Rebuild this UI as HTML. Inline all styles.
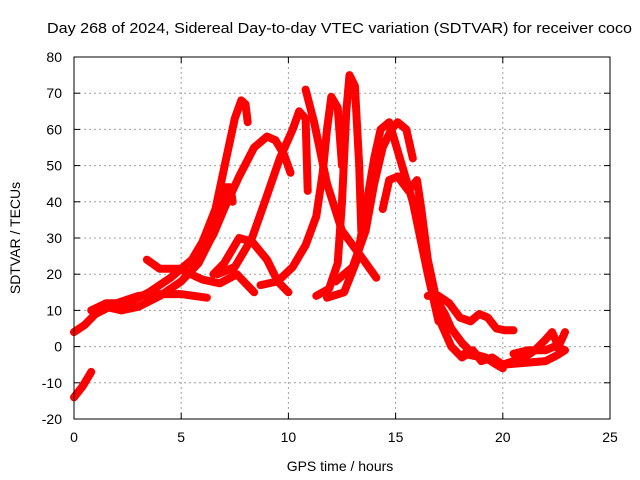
<!DOCTYPE html>
<html><head><meta charset="utf-8">
<style>
body{margin:0;background:#fff;}
svg{display:block;font-family:"Liberation Sans",sans-serif;}
</style></head>
<body>
<svg id="chart" width="640" height="480">
<rect x="0" y="0" width="640" height="480" fill="#fff"/>
<text x="47" y="33" font-size="15" textLength="585" lengthAdjust="spacingAndGlyphs">Day 268 of 2024, Sidereal Day-to-day VTEC variation (SDTVAR) for receiver coco</text>
<text x="340" y="471" font-size="14" text-anchor="middle">GPS time / hours</text>
<text transform="translate(20,238) rotate(-90)" font-size="14" text-anchor="middle">SDTVAR / TECUs</text>
<g id="grid"></g>
<g id="marks"></g>
<g id="axes"></g>
</svg>
<script>
const xTicks=[0,5,10,15,20,25];
const yTicks=[-20,-10,0,10,20,30,40,50,60,70,80];
const trackHours=[
 [0,0.4,0.8],
 [0,0.5,1,2,3,4,5,5.6,6.2],
 [0.8,1.5,2.5,3.5,4.5,5.5,6,6.6,7.1,7.5,7.8,8,8.1],
 [1.5,2.2,3,4,5,5.8,6.4,6.9,7.1,7.3,7.4],
 [3.4,4,4.9,6,6.8,7.6,8.4],
 [6.5,7,7.7,8.3,9,9.5,10],
 [5.5,6,6.5,7,7.7,8.4,9,9.4,9.8,10.1],
 [6.7,7.5,8.3,8.9,9.6,10.2,10.5,10.8,10.9],
 [8.7,9.5,10.2,10.8,11.3,11.6,11.8,12,12.3,12.5],
 [11.3,11.9,12.3,12.5,12.7,12.85,13.1,13.3,13.4],
 [10.8,11.2,11.8,12.5,13,13.5,14.1],
 [11.8,12.6,13.2,13.6,14,14.3,14.7,15.2,15.8,16.5,17],
 [12.2,13,13.6,14,14.4,14.8,15.1,15.5,15.8],
 [14.4,14.7,15.1,15.6,16,16.2,16.5,16.9,17.3,17.6,18.1,18.6,19.2,19.7,20],
 [16.5,17,17.5,18,18.5,18.9,19.3,19.7,20.1,20.5],
 [17,17.6,18.1,18.6,19,19.5,20,20.5,21,21.5,22,22.3,22.6,22.9],
 [18.2,19,20,21,22,22.5,22.9,22.4,22,21.2,20.5]
];
const trackValues=[
 [-14,-11,-7],
 [4,6,9,12,14,14.5,14.5,14,13.5],
 [10,12,12,15,19,24,29,38,52,63,68,67,62],
 [11,10,11,14,18,23,30,37,44,44,40],
 [24,21.5,21.5,18.5,17.5,20,15],
 [20,23,30,29,24,18,15],
 [23,26,31,38,47,55,58,57,53,48],
 [20,22,30,40,52,60,65,63,43],
 [17,18,22,28,36,48,60,69,66,50],
 [14,16,23,40,65,75,72,50,32],
 [71,62,45,32,28,24,19],
 [13.5,15,24,38,52,60,62,52,40,20,7],
 [18,22,32,45,55,60,62,60,52],
 [38,46,47,43,46,38,24,13,9,5,1,-2,-3,-5,-6],
 [14,14,12,8,7,9,8,5,4.5,4.5],
 [8,0,-3,-1,-4,-3,-5,-4,-3,-1,2,4,0,4],
 [-2,-3,-5,-4.5,-4,-2.5,-1,0,-1,-1,-2]
];
const X0=74,X1=610,Y0=419,Y1=57;
function sx(h){return X0+(h-0)/(25-0)*(X1-X0);}
function sy(v){return Y0-(v+20)/(100)*(Y0-Y1);}
const NS="http://www.w3.org/2000/svg";
const grid=document.getElementById('grid'),axes=document.getElementById('axes'),marks=document.getElementById('marks');
function mk(tag,attrs,parent){const e=document.createElementNS(NS,tag);for(const k in attrs)e.setAttribute(k,attrs[k]);parent.appendChild(e);return e;}
xTicks.forEach(t=>{
 const x=sx(t);
 if(t>0&&t<25){const g=mk('line',{x1:x,x2:x,y1:Y1,y2:Y0,stroke:'#a0a0a0','stroke-dasharray':'2,3','stroke-width':1},grid);
 
 }
 mk('line',{x1:x,x2:x,y1:Y0,y2:Y0-6,stroke:'#000'},axes);
 mk('line',{x1:x,x2:x,y1:Y1,y2:Y1+6,stroke:'#000'},axes);
 const l=mk('text',{x:x,y:Y0+23,'font-size':14,'text-anchor':'middle'},axes);l.textContent=t;
 
 
});
yTicks.forEach(t=>{
 const y=sy(t);
 if(t>-20&&t<80){const g=mk('line',{x1:X0,x2:X1,y1:y,y2:y,stroke:'#a0a0a0','stroke-dasharray':'2,3','stroke-width':1},grid);
 
 }
 mk('line',{x1:X0,x2:X0+6,y1:y,y2:y,stroke:'#000'},axes);
 mk('line',{x1:X1,x2:X1-6,y1:y,y2:y,stroke:'#000'},axes);
 const l=mk('text',{x:X0-12,y:y+5,'font-size':14,'text-anchor':'end'},axes);l.textContent=t;
 
 
});
const fr=mk('rect',{x:X0,y:Y1,width:X1-X0,height:Y0-Y1,fill:'none',stroke:'#000','stroke-width':1},axes);


trackHours.forEach((hs,i)=>{
 const vs=trackValues[i];
 const pts=hs.map((h,j)=>sx(h).toFixed(1)+','+sy(vs[j]).toFixed(1)).join(' ');
 const p=mk('polyline',{points:pts,fill:'none',stroke:'#ff0000','stroke-width':8,'stroke-linejoin':'round','stroke-linecap':'round'},marks);
 
 
});
</script>
</body></html>
